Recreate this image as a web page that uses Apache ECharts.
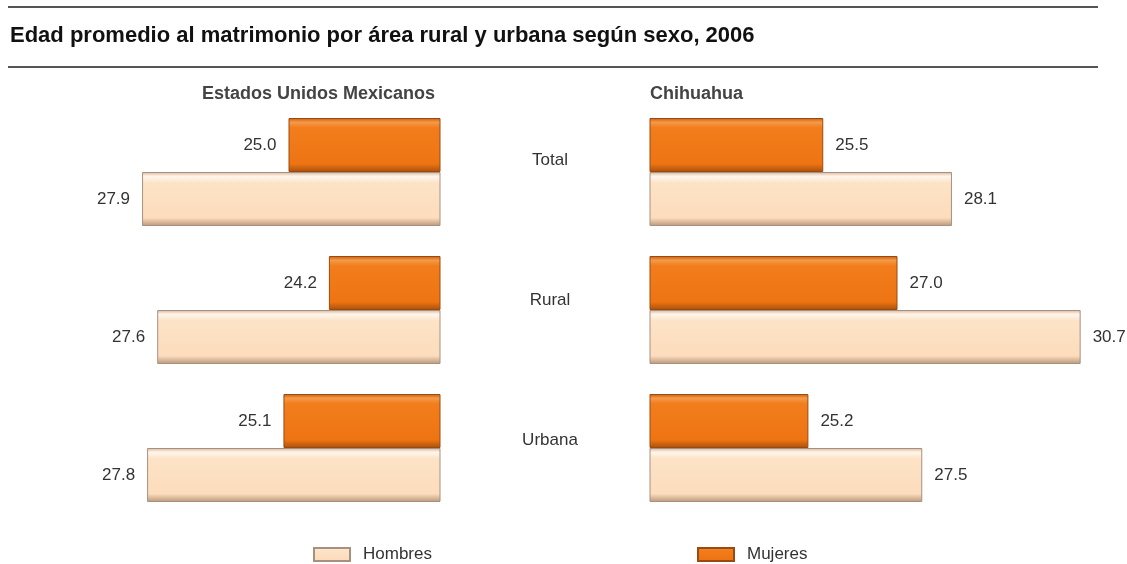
<!DOCTYPE html>
<html><head><meta charset="utf-8">
<script src="https://cdn.jsdelivr.net/npm/echarts@6/dist/echarts.min.js"></script>
<style>html,body{margin:0;padding:0;background:#fff}#c{width:1127px;height:564px}</style>
</head><body><div id="c"></div>
<script>
const categories = ['Total', 'Rural', 'Urbana'];
const nacionalHombres = [27.9, 27.6, 27.8];
const nacionalMujeres = [25.0, 24.2, 25.1];
const chihuahuaHombres = [28.1, 30.7, 27.5];
const chihuahuaMujeres = [25.5, 27.0, 25.2];

const chart = echarts.init(document.getElementById('c'));
const font = '"Liberation Sans", Arial, sans-serif';

const orangeFill = new echarts.graphic.LinearGradient(0, 0, 0, 1, [
  {offset: 0, color: '#c85e0c'}, {offset: 0.08, color: '#f59a4a'}, {offset: 0.18, color: '#f27d1c'},
  {offset: 0.85, color: '#ee7412'}, {offset: 1, color: '#a8500c'}]);
const peachFill = new echarts.graphic.LinearGradient(0, 0, 0, 1, [
  {offset: 0, color: '#d9b697'}, {offset: 0.08, color: '#fff6ec'}, {offset: 0.2, color: '#fde3c6'},
  {offset: 0.85, color: '#fcdcbc'}, {offset: 1, color: '#b99779'}]);

const orangeStyle = {color: orangeFill, borderColor: '#9a4a10', borderWidth: 1};
const peachStyle = {color: peachFill, borderColor: '#a89080', borderWidth: 1};

const lbl = (pos) => ({show: true, position: pos, distance: 12, color: '#333', fontSize: 17, fontFamily: font,
  formatter: p => p.value.toFixed(1)});

const yAx = (gi) => ({type: 'category', gridIndex: gi, data: categories, inverse: true,
  axisLine: {show: false}, axisTick: {show: false}, axisLabel: {show: false}});

chart.setOption({
  animation: false,
  textStyle: {fontFamily: font},
  grid: [
    {left: 36, top: 103, width: 404, height: 414},
    {left: 650, top: 103, width: 445.5, height: 414}
  ],
  xAxis: [
    {type: 'value', gridIndex: 0, min: 22, max: 30, inverse: true, show: false},
    {type: 'value', gridIndex: 1, min: 22, max: 31, show: false}
  ],
  yAxis: [yAx(0), yAx(1)],
  legend: [
    {data: ['Hombres'], icon: 'rect', left: 308, top: 541, itemWidth: 36, itemHeight: 13, itemGap: 0,
     textStyle: {color: '#333', fontSize: 17, fontFamily: font, padding: [0, 0, 0, 8]}},
    {data: ['Mujeres'], icon: 'rect', left: 692, top: 541, itemWidth: 36, itemHeight: 13, itemGap: 0,
     textStyle: {color: '#333', fontSize: 17, fontFamily: font, padding: [0, 0, 0, 8]}}
  ],
  series: [
    {name: 'Mujeres', type: 'bar', xAxisIndex: 0, yAxisIndex: 0, data: nacionalMujeres,
     barWidth: 54, barGap: '0%', itemStyle: orangeStyle, label: lbl('left')},
    {name: 'Hombres', type: 'bar', xAxisIndex: 0, yAxisIndex: 0, data: nacionalHombres,
     barWidth: 54, barGap: '0%', itemStyle: peachStyle, label: lbl('left')},
    {name: 'Mujeres', type: 'bar', xAxisIndex: 1, yAxisIndex: 1, data: chihuahuaMujeres,
     barWidth: 54, barGap: '0%', itemStyle: orangeStyle, label: lbl('right')},
    {name: 'Hombres', type: 'bar', xAxisIndex: 1, yAxisIndex: 1, data: chihuahuaHombres,
     barWidth: 54, barGap: '0%', itemStyle: peachStyle, label: lbl('right')}
  ],
  graphic: [
    {type: 'line', shape: {x1: 8, y1: 7, x2: 1098, y2: 7}, style: {stroke: '#555', lineWidth: 2}},
    {type: 'line', shape: {x1: 8, y1: 67, x2: 1098, y2: 67}, style: {stroke: '#555', lineWidth: 2}},
    {type: 'text', left: 10, top: 25, style: {text: 'Edad promedio al matrimonio por área rural y urbana según sexo, 2006',
      fill: '#111', font: 'bold 22px ' + font}},
    {type: 'text', left: 202, top: 85, style: {text: 'Estados Unidos Mexicanos', fill: '#444', font: 'bold 18px ' + font}},
    {type: 'text', left: 650, top: 85, style: {text: 'Chihuahua', fill: '#444', font: 'bold 18px ' + font}},
    {type: 'text', x: 550, y: 160, style: {text: 'Total', fill: '#333', font: '17px ' + font, align: 'center', verticalAlign: 'middle'}},
    {type: 'text', x: 550, y: 300, style: {text: 'Rural', fill: '#333', font: '17px ' + font, align: 'center', verticalAlign: 'middle'}},
    {type: 'text', x: 550, y: 440, style: {text: 'Urbana', fill: '#333', font: '17px ' + font, align: 'center', verticalAlign: 'middle'}}
  ]
});
</script></body></html>
